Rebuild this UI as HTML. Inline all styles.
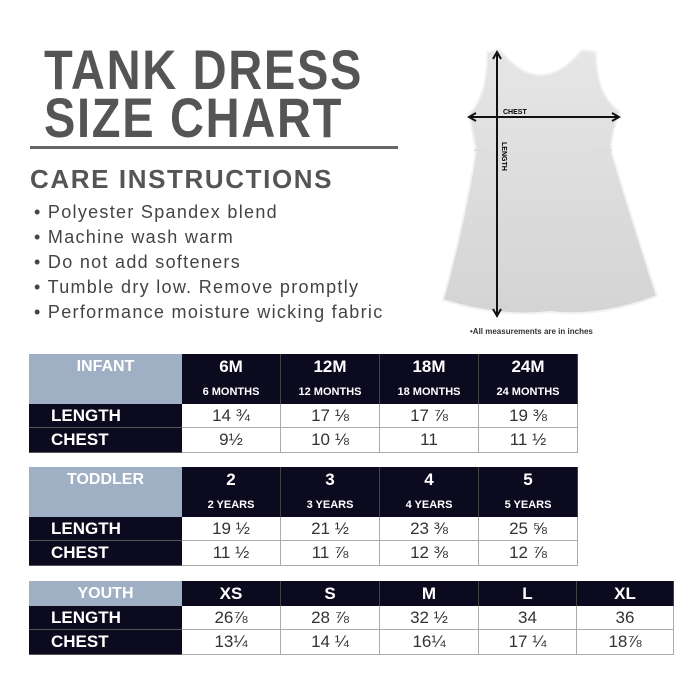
<!DOCTYPE html>
<html><head><style>
body{margin:0;width:700px;height:700px;background:#fff;position:relative;overflow:hidden;font-family:"Liberation Sans",sans-serif}
.t{position:absolute;color:#555;font-weight:bold}
.tt{font-size:56px;line-height:56px;letter-spacing:2px;transform:scaleX(0.84);transform-origin:0 0}
.c{position:absolute;box-sizing:border-box;display:flex;align-items:center;justify-content:center;font-family:"Liberation Sans Narrow","Liberation Sans",sans-serif}
.h{background:#0c0a1e;color:#fff;font-weight:bold;border-right:1px solid #444}
.lb{background:#9fb0c5;color:#fff;font-weight:bold;font-size:16px}
.rl{background:#0c0a1e;color:#fff;font-weight:bold;font-size:17px;justify-content:flex-start;padding-left:22px;border-bottom:1px solid #555}
.v{background:#fff;color:#333;font-size:17px;border-right:1px solid #aaa;border-bottom:1px solid #aaa}
.b{position:absolute;left:34px;font-size:18px;color:#444;letter-spacing:1.3px}
</style></head><body>
<div class="t tt" style="left:44px;top:42px">TANK DRESS</div>
<div class="t tt" style="left:44px;top:90px">SIZE CHART</div>
<div style="position:absolute;left:30px;top:146px;width:368px;height:3px;background:#666"></div>
<div class="t" style="left:30px;top:164px;font-size:26px;letter-spacing:1.6px">CARE INSTRUCTIONS</div>
<div class="b" style="top:202px">• Polyester Spandex blend</div>
<div class="b" style="top:227px">• Machine wash warm</div>
<div class="b" style="top:252px">• Do not add softeners</div>
<div class="b" style="top:277px">• Tumble dry low. Remove promptly</div>
<div class="b" style="top:302px">• Performance moisture wicking fabric</div>

<svg style="position:absolute;left:0;top:0" width="700" height="350">
<defs><linearGradient id="g" x1="0" y1="0" x2="0" y2="1"><stop offset="0" stop-color="#e6e6e6"/><stop offset="1" stop-color="#d4d4d4"/></linearGradient></defs>
<path d="M487,52 L500,50 Q540,100 582,50 L596,52 Q596,95 620,112 Q612,130 611,150 Q632,220 657,296 Q600,318 550,312 Q500,318 443,300 Q465,220 476,150 Q472,130 469,114 Q488,95 487,52 Z" fill="url(#g)" stroke="#f2f2f2" stroke-width="2"/>
<path d="M474,150 Q540,160 612,150" stroke="#ddd" stroke-width="2" fill="none"/>
<path d="M497,54 V314 M470,117 H618" stroke="#111" stroke-width="2"/>
<path d="M493,59 L497,52 L501,59 M493,309 L497,316 L501,309 M476,113 L469,117 L476,121 M612,113 L619,117 L612,121" stroke="#111" stroke-width="2" fill="none"/>
<text x="503" y="114" font-size="7" font-weight="bold" font-family="Liberation Sans">CHEST</text>
<text transform="translate(502,142) rotate(90)" font-size="7" font-weight="bold" font-family="Liberation Sans">LENGTH</text>
<text x="470" y="334" font-size="8" fill="#333" font-weight="bold" font-family="Liberation Sans">•All measurements are in inches</text>
</svg>

<!-- INFANT -->
<div class="c lb" style="left:29px;top:354px;width:153px;height:50px;align-items:flex-start;padding-top:4px">INFANT</div>
<div class="c h" style="left:182px;top:354px;width:99px;height:25px;font-size:17px">6M</div>
<div class="c h" style="left:281px;top:354px;width:99px;height:25px;font-size:17px">12M</div>
<div class="c h" style="left:380px;top:354px;width:99px;height:25px;font-size:17px">18M</div>
<div class="c h" style="left:479px;top:354px;width:99px;height:25px;font-size:17px">24M</div>
<div class="c h" style="left:182px;top:379px;width:99px;height:25px;font-size:11px">6 MONTHS</div>
<div class="c h" style="left:281px;top:379px;width:99px;height:25px;font-size:11px">12 MONTHS</div>
<div class="c h" style="left:380px;top:379px;width:99px;height:25px;font-size:11px">18 MONTHS</div>
<div class="c h" style="left:479px;top:379px;width:99px;height:25px;font-size:11px">24 MONTHS</div>
<div class="c rl" style="left:29px;top:404px;width:153px;height:24px">LENGTH</div>
<div class="c rl" style="left:29px;top:428px;width:153px;height:25px">CHEST</div>
<div class="c v" style="left:182px;top:404px;width:99px;height:24px">14 ¾</div>
<div class="c v" style="left:281px;top:404px;width:99px;height:24px">17 ⅛</div>
<div class="c v" style="left:380px;top:404px;width:99px;height:24px">17 ⅞</div>
<div class="c v" style="left:479px;top:404px;width:99px;height:24px">19 ⅜</div>
<div class="c v" style="left:182px;top:428px;width:99px;height:25px">9½</div>
<div class="c v" style="left:281px;top:428px;width:99px;height:25px">10 ⅛</div>
<div class="c v" style="left:380px;top:428px;width:99px;height:25px">11</div>
<div class="c v" style="left:479px;top:428px;width:99px;height:25px">11 ½</div>

<!-- TODDLER -->
<div class="c lb" style="left:29px;top:467px;width:153px;height:50px;align-items:flex-start;padding-top:4px">TODDLER</div>
<div class="c h" style="left:182px;top:467px;width:99px;height:25px;font-size:17px">2</div>
<div class="c h" style="left:281px;top:467px;width:99px;height:25px;font-size:17px">3</div>
<div class="c h" style="left:380px;top:467px;width:99px;height:25px;font-size:17px">4</div>
<div class="c h" style="left:479px;top:467px;width:99px;height:25px;font-size:17px">5</div>
<div class="c h" style="left:182px;top:492px;width:99px;height:25px;font-size:11px">2 YEARS</div>
<div class="c h" style="left:281px;top:492px;width:99px;height:25px;font-size:11px">3 YEARS</div>
<div class="c h" style="left:380px;top:492px;width:99px;height:25px;font-size:11px">4 YEARS</div>
<div class="c h" style="left:479px;top:492px;width:99px;height:25px;font-size:11px">5 YEARS</div>
<div class="c rl" style="left:29px;top:517px;width:153px;height:24px">LENGTH</div>
<div class="c rl" style="left:29px;top:541px;width:153px;height:25px">CHEST</div>
<div class="c v" style="left:182px;top:517px;width:99px;height:24px">19 ½</div>
<div class="c v" style="left:281px;top:517px;width:99px;height:24px">21 ½</div>
<div class="c v" style="left:380px;top:517px;width:99px;height:24px">23 ⅜</div>
<div class="c v" style="left:479px;top:517px;width:99px;height:24px">25 ⅝</div>
<div class="c v" style="left:182px;top:541px;width:99px;height:25px">11 ½</div>
<div class="c v" style="left:281px;top:541px;width:99px;height:25px">11 ⅞</div>
<div class="c v" style="left:380px;top:541px;width:99px;height:25px">12 ⅜</div>
<div class="c v" style="left:479px;top:541px;width:99px;height:25px">12 ⅞</div>

<!-- YOUTH -->
<div class="c lb" style="left:29px;top:581px;width:153px;height:25px">YOUTH</div>
<div class="c h" style="left:182px;top:581px;width:99px;height:25px;font-size:17px">XS</div>
<div class="c h" style="left:281px;top:581px;width:99px;height:25px;font-size:17px">S</div>
<div class="c h" style="left:380px;top:581px;width:99px;height:25px;font-size:17px">M</div>
<div class="c h" style="left:479px;top:581px;width:98px;height:25px;font-size:17px">L</div>
<div class="c h" style="left:577px;top:581px;width:97px;height:25px;font-size:17px">XL</div>
<div class="c rl" style="left:29px;top:606px;width:153px;height:24px">LENGTH</div>
<div class="c rl" style="left:29px;top:630px;width:153px;height:25px">CHEST</div>
<div class="c v" style="left:182px;top:606px;width:99px;height:24px">26⅞</div>
<div class="c v" style="left:281px;top:606px;width:99px;height:24px">28 ⅞</div>
<div class="c v" style="left:380px;top:606px;width:99px;height:24px">32 ½</div>
<div class="c v" style="left:479px;top:606px;width:98px;height:24px">34</div>
<div class="c v" style="left:577px;top:606px;width:97px;height:24px">36</div>
<div class="c v" style="left:182px;top:630px;width:99px;height:25px">13¼</div>
<div class="c v" style="left:281px;top:630px;width:99px;height:25px">14 ¼</div>
<div class="c v" style="left:380px;top:630px;width:99px;height:25px">16¼</div>
<div class="c v" style="left:479px;top:630px;width:98px;height:25px">17 ¼</div>
<div class="c v" style="left:577px;top:630px;width:97px;height:25px">18⅞</div>
</body></html>
